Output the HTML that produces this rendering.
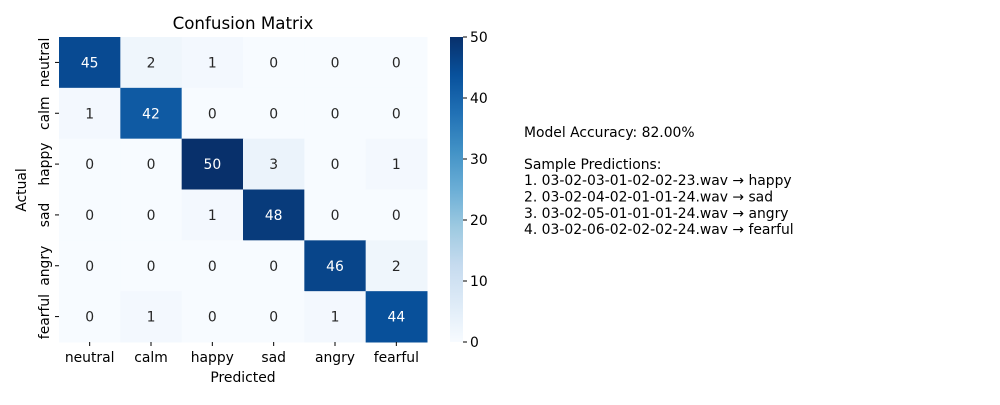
<!DOCTYPE html>
<html><head><meta charset="utf-8"><style>
body{margin:0;background:#fff;}
svg text{font-family:"DejaVu Sans","Liberation Sans",sans-serif;}
</style></head><body>
<svg id="chart" width="1000" height="400" viewBox="0 0 1000 400">
<text x="243" y="29" text-anchor="middle" font-size="16.7">Confusion Matrix</text>
<g id="cells"></g>
<g id="xticks"></g>
<g id="yticks"></g>
<text x="243" y="382" text-anchor="middle" font-size="13.9">Predicted</text>
<text transform="translate(26,190) rotate(-90)" text-anchor="middle" font-size="13.9">Actual</text>
<defs><linearGradient id="cb" x1="0" y1="1" x2="0" y2="0">
<stop offset="0" stop-color="#f7fbff"/><stop offset="0.125" stop-color="#deebf7"/><stop offset="0.25" stop-color="#c6dbef"/><stop offset="0.375" stop-color="#9ecae1"/><stop offset="0.5" stop-color="#6baed6"/><stop offset="0.625" stop-color="#4292c6"/><stop offset="0.75" stop-color="#2171b5"/><stop offset="0.875" stop-color="#08519c"/><stop offset="1" stop-color="#08306b"/>
</linearGradient></defs>
<rect x="450" y="37" width="13" height="305" fill="url(#cb)"/>
<g id="cbticks"></g>
<g font-size="13.9">
<text x="524" y="137">Model Accuracy: 82.00%</text>
<text x="524" y="169">Sample Predictions:</text>
<text x="524" y="185">1. 03-02-03-01-02-02-23.wav → happy</text>
<text x="524" y="201.5">2. 03-02-04-02-01-01-24.wav → sad</text>
<text x="524" y="218">3. 03-02-05-01-01-01-24.wav → angry</text>
<text x="524" y="234">4. 03-02-06-02-02-02-24.wav → fearful</text>
</g>
</svg>
<script>
const labels = ["neutral","calm","happy","sad","angry","fearful"];
const matrix = [
[45,2,1,0,0,0],
[1,42,0,0,0,0],
[0,0,50,3,0,1],
[0,0,1,48,0,0],
[0,0,0,0,46,2],
[0,1,0,0,1,44]];
const cbTicks = [0,10,20,30,40,50];
const vmin=0, vmax=50;
const X0=59,X1=427,Y0=37,Y1=342;
const stops=[[247,251,255],[222,235,247],[198,219,239],[158,202,225],[107,174,214],[66,146,198],[33,113,181],[8,81,156],[8,48,107]];
function color(v){let t=Math.max(0,Math.min(1,(v-vmin)/(vmax-vmin)))*8;let i=Math.min(7,Math.floor(t)),f=t-i;
const c=stops[i].map((a,k)=>Math.round(a+(stops[i+1][k]-a)*f));return [`rgb(${c})`,c];}
const n=labels.length, cw=(X1-X0)/n, ch=(Y1-Y0)/n;
const xs=i=>X0+i*cw, ys=j=>Y0+j*ch;
const NS="http://www.w3.org/2000/svg";
function mk(tag,attrs,parent,txt){const e=document.createElementNS(NS,tag);for(const k in attrs)e.setAttribute(k,attrs[k]);if(txt!==undefined)e.textContent=txt;parent.appendChild(e);return e;}
const cells=document.getElementById('cells');
matrix.forEach((row,r)=>row.forEach((v,c)=>{
 const [col,rgb]=color(v);
 const rc=mk('rect',{x:xs(c),y:ys(r),width:cw+0.5,height:ch+0.5,fill:col},cells);
 
 
 const lum=(0.299*rgb[0]+0.587*rgb[1]+0.114*rgb[2])/255;
 const t=mk('text',{x:xs(c)+cw/2,y:ys(r)+ch/2+5,'text-anchor':'middle','font-size':13.9,fill:lum<0.5?'#fff':'#262626'},cells,String(v));
 
 
}));
const xt=document.getElementById('xticks'), yt=document.getElementById('yticks');
labels.forEach((l,i)=>{
 mk('line',{x1:xs(i)+cw/2,x2:xs(i)+cw/2,y1:Y1,y2:Y1+4,stroke:'#000'},xt);
 const t=mk('text',{x:xs(i)+cw/2,y:Y1+20,'text-anchor':'middle','font-size':13.9},xt,l);
 
 
 const cy=ys(i)+ch/2;
 mk('line',{x1:X0-4,x2:X0,y1:cy,y2:cy,stroke:'#000'},yt);
 const u=mk('text',{transform:`translate(${X0-10},${cy}) rotate(-90)`,'text-anchor':'middle','font-size':13.9},yt,l);
 
 
});
const cb=document.getElementById('cbticks');
cbTicks.forEach(v=>{
 const y=Y1-(v-vmin)/(vmax-vmin)*(Y1-Y0);
 mk('line',{x1:463,x2:467,y1:y,y2:y,stroke:'#000'},cb);
 const t=mk('text',{x:470,y:y+5,'font-size':13.9},cb,String(v));
 
 
});
</script>
</body></html>
